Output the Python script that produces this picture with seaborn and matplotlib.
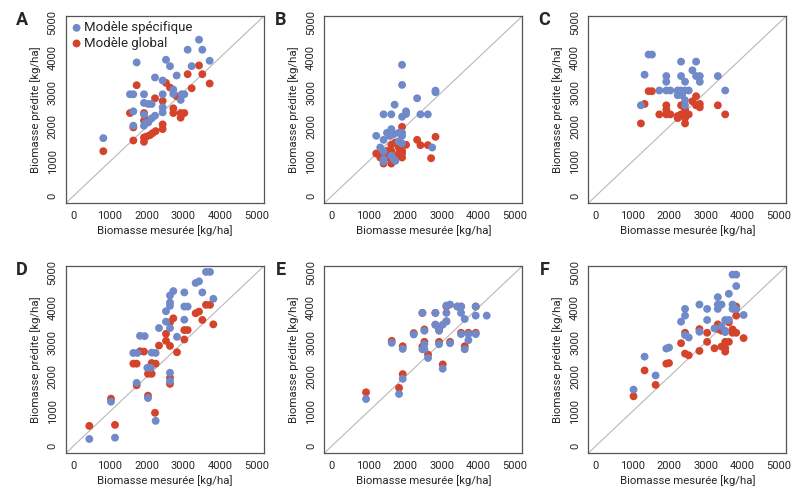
import numpy as np
import pandas as pd
import seaborn as sns
import matplotlib.pyplot as plt

# Measured vs predicted biomass, six sites (A-F), two models
panel_labels = ['A', 'B', 'C', 'D', 'E', 'F']
ticks = [0, 1000, 2000, 3000, 4000, 5000]

# Panel A
a_spec_x = [818, 1727, 1545, 1636, 1636, 1636, 1927, 1927, 2045, 2136, 1927, 1955, 2045, 2136, 2227, 2227, 2436,
            2436, 2436, 2436, 2527, 2636, 2727, 2727, 2818, 2927, 2955, 3027, 3118, 3227, 3427, 3518, 3718, 1927]
a_spec_y = [1673, 3859, 2940, 2940, 2447, 2031, 2940, 2689, 2660, 2660, 2350, 2099, 2128, 2244, 2321, 3424, 3337,
            2940, 2563, 2418, 3936, 3752, 3075, 2950, 3482, 2776, 2940, 2940, 4226, 3752, 4516, 4226, 3907, 2031]
a_glob_x = [818, 1636, 1545, 1636, 1727, 1927, 1927, 2000, 1927, 1927, 2000, 2091, 2164, 2245, 2227, 2436, 2436,
            2436, 2527, 2636, 2727, 2727, 2818, 2927, 2927, 3027, 3118, 3227, 3427, 3518, 3718]
a_glob_y = [1296, 1605, 2398, 1983, 3201, 2398, 2176, 2195, 1692, 1567, 1721, 1760, 1818, 1876, 2824, 2747, 2070,
            1934, 3269, 3133, 2534, 2398, 2882, 2398, 2263, 2398, 3520, 3114, 3772, 3520, 3250]

# Panel B
b_spec_x = [1918, 1918, 2830, 2830, 2329, 1715, 1414, 1625, 1918, 2027, 2027, 2419, 2620, 1214, 1507, 1625, 1580,
            1690, 1827, 1918, 1918, 1414, 1827, 1918, 1323, 1414, 1414, 1414, 1625, 1690, 2740, 1735]
b_spec_y = [3790, 3210, 3045, 2999, 2824, 2639, 2360, 2360, 2291, 2447, 2370, 2360, 2360, 1740, 1827, 1934, 1740,
            1789, 1827, 1827, 1740, 1624, 1577, 1519, 1403, 1287, 1064, 997, 1161, 1064, 1403, 1016]
b_glob_x = [1918, 2329, 2419, 2620, 2830, 2710, 1214, 1414, 1507, 1625, 1735, 1827, 1918, 1918, 2027, 1827, 1625,
            1323, 1414, 1625, 1735, 1918, 1553]
b_glob_y = [2001, 1624, 1471, 1471, 1711, 1093, 1229, 1229, 1306, 1480, 1548, 1229, 1229, 1306, 1480, 1403, 1306,
            1113, 939, 939, 1113, 1113, 1113]

# Panel C
c_spec_x = [1442, 1533, 1332, 1232, 1734, 1925, 1925, 1925, 2035, 2327, 2327, 2436, 2235, 2327, 2436, 2536, 2235,
            2354, 2436, 2436, 2637, 2737, 2737, 2838, 2838, 3330, 3531]
c_spec_y = [4087, 4087, 3505, 2621, 3049, 3466, 3301, 3049, 3049, 3883, 3466, 3301, 3049, 3049, 3049, 3049, 2913,
            2913, 2767, 2621, 3631, 3883, 3466, 3466, 3301, 3466, 3049]
c_glob_x = [1232, 1332, 1442, 1533, 1734, 1925, 1925, 1925, 2035, 2235, 2235, 2327, 2327, 2436, 2436, 2436, 2436,
            2536, 2637, 2737, 2737, 2838, 2838, 3330, 3531]
c_glob_y = [2097, 2660, 3029, 3029, 2359, 2621, 2495, 2359, 2359, 2311, 2252, 2621, 2359, 2495, 2359, 2252, 2097,
            2359, 2738, 2883, 2621, 2563, 2660, 2621, 2359]

# Panel D
d_spec_x = [436, 1136, 1027, 1727, 1636, 1745, 1818, 1945, 2018, 2109, 2036, 2136, 2245, 2245, 2336, 2527, 2527,
            2636, 2727, 2636, 2636, 2636, 2636, 2636, 2827, 3027, 3027, 3118, 3027, 3336, 3427, 3518, 3618, 3727,
            3818]
d_spec_y = [204, 243, 1282, 1825, 2689, 2689, 3184, 3175, 2262, 2262, 1388, 2699, 2689, 728, 3408, 3893, 3592,
            4350, 4476, 4146, 4049, 3408, 2117, 1874, 3155, 4437, 4029, 4029, 3650, 4709, 4757, 4437, 5029, 5029,
            4252]
d_glob_x = [436, 1136, 1027, 1727, 1636, 1727, 1818, 1927, 2036, 2036, 2136, 2136, 2245, 2227, 2336, 2527, 2527,
            2636, 2636, 2727, 2636, 2636, 2827, 3027, 3118, 3027, 3336, 3427, 3518, 3618, 3727, 3818]
d_glob_y = [583, 612, 1369, 1757, 2379, 2379, 2738, 2728, 1456, 2087, 2087, 2398, 2379, 961, 2903, 3243, 3039,
            2893, 3573, 3689, 1971, 1796, 2709, 3350, 3350, 3078, 3835, 3883, 3641, 4078, 4078, 3515]

# Panel E
e_spec_x = [936, 1836, 1936, 1636, 1936, 2236, 2473, 2473, 2527, 2527, 2527, 2627, 2827, 2827, 2927, 2927, 3027,
            3027, 3127, 3127, 3127, 3227, 3227, 3427, 3527, 3527, 3527, 3627, 3627, 3727, 3727, 3927, 3927, 3927,
            4227]
e_spec_y = [1359, 1505, 1942, 2981, 2806, 3223, 3845, 2796, 3330, 2942, 2796, 2544, 3845, 3505, 3330, 2942, 2233,
            3505, 3602, 3845, 4058, 4087, 2971, 4029, 4029, 3845, 3233, 3670, 2796, 3233, 3058, 4029, 3767, 3233,
            3767]
e_glob_x = [936, 1836, 1936, 1636, 1936, 2236, 2473, 2473, 2527, 2527, 2627, 2827, 2827, 2927, 2927, 3027, 3127,
            3227, 3427, 3527, 3527, 3627, 3727, 3927, 3927, 3127]
e_glob_y = [1553, 1680, 2078, 3039, 2883, 3262, 3845, 2874, 3369, 3010, 2641, 3845, 3505, 3379, 3010, 2359, 4029,
            3010, 4029, 4029, 3272, 2883, 3272, 4029, 3272, 3602]

# Panel F
f_spec_x = [1031, 1332, 1633, 1925, 1998, 2327, 2436, 2436, 2436, 2536, 2828, 2828, 3038, 3038, 3239, 3330, 3330,
            3330, 3430, 3430, 3531, 3531, 3631, 3631, 3731, 3731, 3731, 3832, 3832, 3832, 4033, 3531]
f_spec_y = [1631, 2583, 2039, 2816, 2845, 3592, 3767, 3961, 3204, 3136, 4087, 3301, 3961, 3641, 3398, 4301, 4087,
            3961, 4087, 3456, 3641, 3330, 3641, 4398, 4087, 3961, 4951, 4951, 4621, 3961, 3786, 3291]
f_glob_x = [1031, 1332, 1633, 1925, 1998, 2327, 2436, 2436, 2536, 2828, 2828, 3038, 3038, 3239, 3330, 3330, 3430,
            3430, 3531, 3531, 3531, 3631, 3731, 3731, 3832, 3832, 3832, 4033, 3631]
f_glob_y = [1437, 2184, 1767, 2379, 2398, 2971, 3272, 2670, 2621, 3379, 2748, 3272, 3010, 2825, 3515, 3379, 3330,
            2874, 3010, 2825, 2728, 3010, 3272, 3369, 4029, 3767, 3272, 3117, 3573]

spec_x = [a_spec_x, b_spec_x, c_spec_x, d_spec_x, e_spec_x, f_spec_x]
spec_y = [a_spec_y, b_spec_y, c_spec_y, d_spec_y, e_spec_y, f_spec_y]
glob_x = [a_glob_x, b_glob_x, c_glob_x, d_glob_x, e_glob_x, f_glob_x]
glob_y = [a_glob_y, b_glob_y, c_glob_y, d_glob_y, e_glob_y, f_glob_y]

blue = '#6F89C9'
red = '#D5432B'

sns.set_style('white')
plt.rcParams['font.family'] = ['Roboto', 'DejaVu Sans']

fig = plt.figure(figsize=(8, 5), dpi=100)
lefts = [0.0825, 0.4055, 0.7355]
bottoms = [0.594, 0.094]
w, h = 0.2475, 0.374

for i, lab in enumerate(panel_labels):
    ax = fig.add_axes([lefts[i % 3], bottoms[i // 3], w, h])
    ax.plot([-200, 5200], [-200, 5200], color='#b8b8b8', lw=0.8, zorder=1)
    sns.scatterplot(x=glob_x[i], y=glob_y[i], ax=ax, color=red, s=32, edgecolor='none',
                    label='Modèle global' if i == 0 else None, zorder=2)
    sns.scatterplot(x=spec_x[i], y=spec_y[i], ax=ax, color=blue, s=32, edgecolor='none',
                    label='Modèle spécifique' if i == 0 else None, zorder=3)
    ax.set_xlim(-200, 5200)
    ax.set_ylim(-200, 5200)
    ax.set_xticks(ticks)
    ax.set_yticks(ticks)
    ax.set_xticklabels([str(t) for t in ticks], fontsize=8)
    ax.set_yticklabels([str(t) for t in ticks], fontsize=8, rotation=90, va='center')
    ax.tick_params(direction='out', length=4, width=0.8, color='#333333', pad=2)
    for sp in ax.spines.values():
        sp.set_color('#555555')
        sp.set_linewidth(0.9)
    ax.set_xlabel('Biomasse mesurée [kg/ha]', fontsize=8.2, labelpad=3)
    ax.set_ylabel('Biomasse prédite [kg/ha]', fontsize=8.2, labelpad=5)
    ax.text(-0.222, 0.98, lab, transform=ax.transAxes, fontsize=13, fontweight='bold',
            ha='center', va='center')
    if i == 0:
        handles, labels = ax.get_legend_handles_labels()
        ax.legend(handles[::-1], labels[::-1], loc='upper left', frameon=False, fontsize=9.5,
                  handletextpad=0.2, handlelength=0.8, borderpad=0.3, borderaxespad=0.1,
                  labelspacing=0.2, markerscale=1.0)
    else:
        if ax.get_legend() is not None:
            ax.get_legend().remove()

fig.savefig('out.png', dpi=100)
